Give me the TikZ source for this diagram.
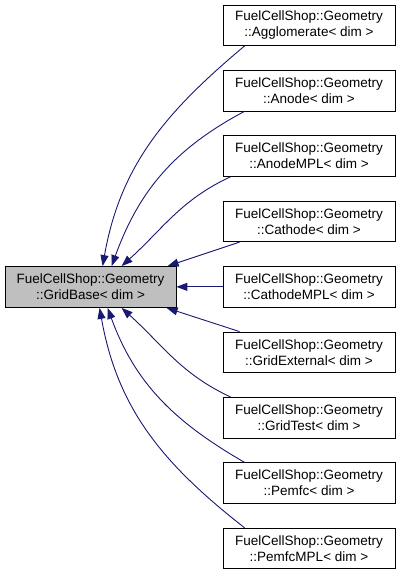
\documentclass[tikz,border=0pt]{standalone}
\usepackage{fontspec}
\setmainfont{Liberation Sans}
\usetikzlibrary{arrows.meta,calc}
\definecolor{edgeblue}{RGB}{25,25,112}
\definecolor{basegray}{RGB}{191,191,191}
\begin{document}
\begin{tikzpicture}[x=1pt,y=1pt,
  cls/.style={draw=black,line width=0.8pt,minimum width=172pt,minimum height=40.5pt,inner sep=0pt,align=center,font=\fontsize{13.5}{16}\selectfont},
  basecls/.style={cls,fill=basegray,minimum width=171pt,minimum height=41pt},
  edge/.style={draw=edgeblue,line width=0.9pt,-{Triangle[length=11pt,width=8pt]}}]
\useasboundingbox (0,0) rectangle (400,-573);
\node[basecls] (base) at (90.5,-287) {FuelCellShop::Geometry\\::GridBase< dim >};
\node[cls] (agg) at (309,-25.25) {FuelCellShop::Geometry\\::Agglomerate< dim >};
\node[cls] (anode) at (309,-90.65) {FuelCellShop::Geometry\\::Anode< dim >};
\node[cls] (anodempl) at (309,-156.05) {FuelCellShop::Geometry\\::AnodeMPL< dim >};
\node[cls] (cathode) at (309,-221.45) {FuelCellShop::Geometry\\::Cathode< dim >};
\node[cls] (cathodempl) at (309,-286.85) {FuelCellShop::Geometry\\::CathodeMPL< dim >};
\node[cls] (gridext) at (309,-352.25) {FuelCellShop::Geometry\\::GridExternal< dim >};
\node[cls] (gridtest) at (309,-417.65) {FuelCellShop::Geometry\\::GridTest< dim >};
\node[cls] (pemfc) at (309,-483.05) {FuelCellShop::Geometry\\::Pemfc< dim >};
\node[cls] (pemfcmpl) at (309,-548.45) {FuelCellShop::Geometry\\::PemfcMPL< dim >};
\draw[edge] ($(agg.south west)+(22,0)$) to[out=220,in=80] ($(base.north west)+(98,0)$);
\draw[edge] ($(anode.south west)+(22,0)$) to[out=208,in=70] ($(base.north west)+(107,0)$);
\draw[edge] ($(anodempl.south west)+(8,0)$) to[out=205,in=42] ($(base.north west)+(117,0)$);
\draw[edge] ($(cathode.south west)+(17,0)$) -- ($(base.north west)+(163,0)$);
\draw[edge] (cathodempl.west) -- (cathodempl.west -| base.east);
\draw[edge] ($(gridext.north west)+(17,0)$) -- ($(base.south west)+(162,0)$);
\draw[edge] ($(gridtest.north west)+(8,0)$) to[out=155,in=-42] ($(base.south west)+(117,0)$);
\draw[edge] ($(pemfc.north west)+(22,0)$) to[out=150,in=-70] ($(base.south west)+(103,0)$);
\draw[edge] ($(pemfcmpl.north west)+(22,0)$) to[out=142,in=-80] ($(base.south west)+(95,0)$);
\end{tikzpicture}
\end{document}
